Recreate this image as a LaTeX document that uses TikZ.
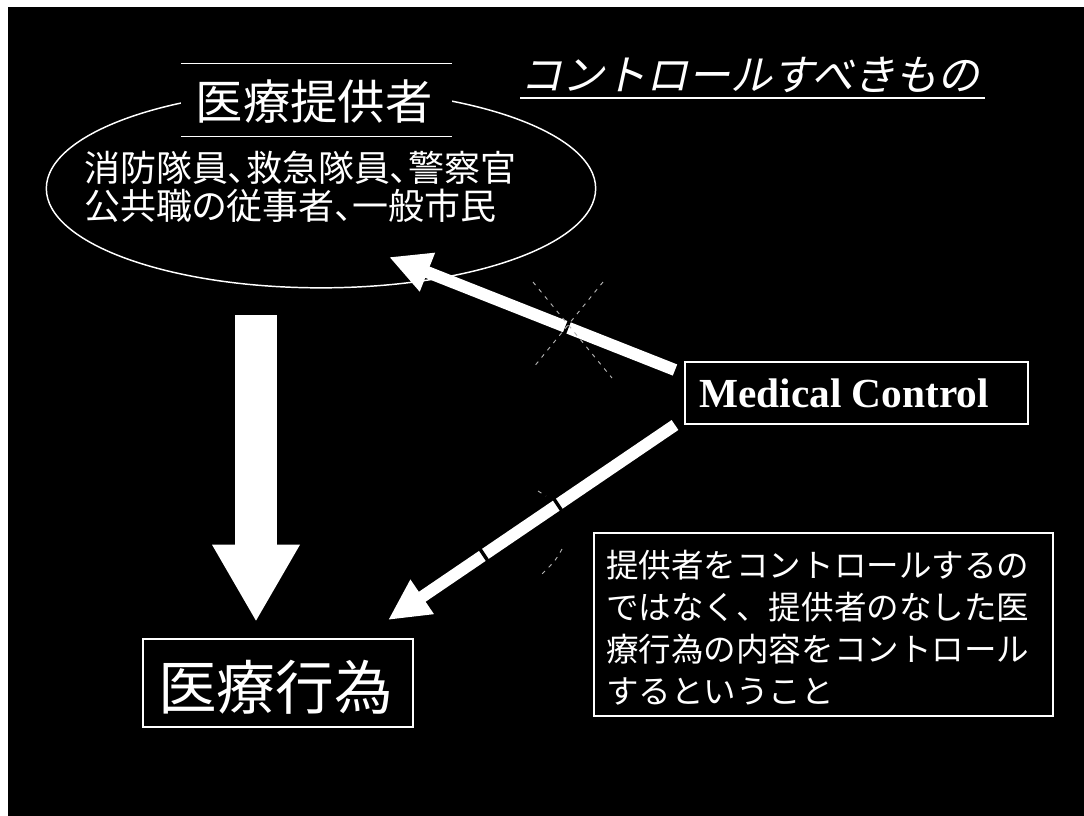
\documentclass[tikz,border=0pt]{standalone}
\usepackage{fontspec}
\setmainfont{Liberation Serif}
\newfontfamily\jp{Noto Sans CJK JP}
\newfontfamily\jpp[RawFeature={+palt}]{Noto Sans CJK JP}
\newfontfamily\jpit[FakeSlant=0.22]{Noto Sans CJK JP}
\usetikzlibrary{arrows.meta,shapes.geometric,calc}
\tikzset{
  txt/.style={text=white, inner sep=0pt},
  frame/.style={draw=white, line width=1.1pt, fill=black},
  thinarrow/.style={draw=white, line width=9pt,
    -{Triangle[length=31pt, width=29pt]}},
  cutmark/.style={draw=black, line width=2.6pt},
  faint/.style={draw=gray!60, line width=0.7pt, dash pattern=on 3pt off 4pt}
}
\begin{document}
\begin{tikzpicture}[x=0.75pt,y=-0.75pt]
\useasboundingbox (0,0) rectangle (1084,815);
\fill[white] (-10,-10) rectangle (1100,830);
\fill[black] (8,7) rectangle (1100,830);

% provider ellipse
\node[ellipse, draw=white, line width=1.1pt, minimum width=412pt, minimum height=149pt, inner sep=0pt] (prov) at (321,188.5) {};
% provider title box (only top and bottom edges visible)
\node[fill=black, minimum width=203pt, minimum height=54pt, inner sep=0pt] (provT) at (316.5,100) {};
\draw[white, line width=1.1pt] (provT.north west) -- (provT.north east);
\draw[white, line width=1.1pt] (provT.south west) -- (provT.south east);
\node[txt, font=\jp\fontsize{35.5}{40}\selectfont] (provTt) at (314,102) {医療提供者};
\node[txt, anchor=west, font=\jpp\fontsize{27}{32}\selectfont] (provL1) at (84,167.5) {消防隊員、救急隊員、警察官};
\node[txt, anchor=west, font=\jpp\fontsize{27}{32}\selectfont] (provL2) at (84,205.5) {公共職の従事者、一般市民};

% title
\node[txt, anchor=west, font=\jpit\fontsize{31.5}{36}\selectfont] (title) at (520,75) {コントロールすべきもの};
\coordinate (ulA) at (520,98);
\coordinate (ulB) at (985,98);
\draw[white, line width=1.5pt] (ulA) -- (ulB);

% Medical Control
\node[frame, minimum width=257pt, minimum height=46.5pt, inner sep=0pt] (mc) at (856.5,393) {};
\node[txt, font=\bfseries\fontsize{31}{36}\selectfont] (mct) at (844,393) {Medical Control};

% act box
\node[frame, minimum width=202.5pt, minimum height=66pt, inner sep=0pt] (act) at (278,683) {};
\node[txt, font=\jp\fontsize{44}{50}\selectfont] (actt) at (275.5,687) {医療行為};

% note box
\node[frame, minimum width=344pt, minimum height=137pt, inner sep=0pt] (note) at (823.5,624.5) {};
\node[txt, anchor=west, font=\jp\fontsize{24.4}{30}\selectfont] (n1) at (606,565) {提供者をコントロールするの};
\node[txt, anchor=west, font=\jp\fontsize{24.4}{30}\selectfont] (n2) at (606,607) {ではなく、提供者のなした医};
\node[txt, anchor=west, font=\jp\fontsize{24.4}{30}\selectfont] (n3) at (606,649) {療行為の内容をコントロール};
\node[txt, anchor=west, font=\jp\fontsize{24.4}{30}\selectfont] (n4) at (606,691) {するということ};

% big down arrow
\coordinate (bigS) at (256,315);
\coordinate (bigE) at (256,622);
\draw[white, line width=31.5pt, -{Triangle[length=58pt, width=61.5pt]}] (bigS) -- (bigE);

% diagonal arrows
\coordinate (mcUp) at (675,370);
\coordinate (provIn) at (389,257);
\coordinate (mcDn) at (675,425);
\coordinate (actIn) at (388,620);
\draw[thinarrow] (mcUp) -- (provIn);
\draw[thinarrow] (mcDn) -- (actIn);

% small breaks in the arrows
\coordinate (g1) at (567,327);
\draw[cutmark] ($(g1)+(2.9,-7.4)$) -- ($(g1)+(-2.9,7.4)$);
\coordinate (g2a) at (562,511);
\coordinate (g2b) at (554,499);
\draw[cutmark] (g2a) -- (g2b);
\coordinate (g3a) at (488,561);
\coordinate (g3b) at (480,549);
\draw[cutmark] (g3a) -- (g3b);

% faint cross over the upper arrow
\coordinate (xA1) at (533,282);
\coordinate (xA2) at (612,378);
\coordinate (xB1) at (603,282);
\coordinate (xB2) at (533,368);
\draw[faint] (xA1) -- (xA2);
\draw[faint] (xB1) -- (xB2);
% faint marks near lower arrow
\coordinate (fA1) at (538,491);
\coordinate (fA2) at (546,496);
\draw[faint] (fA1) -- (fA2);
\coordinate (fB1) at (562,549);
\coordinate (fB2) at (542,574);
\draw[faint] (fB1) .. controls (556,560) .. (fB2);
\end{tikzpicture}
\end{document}
